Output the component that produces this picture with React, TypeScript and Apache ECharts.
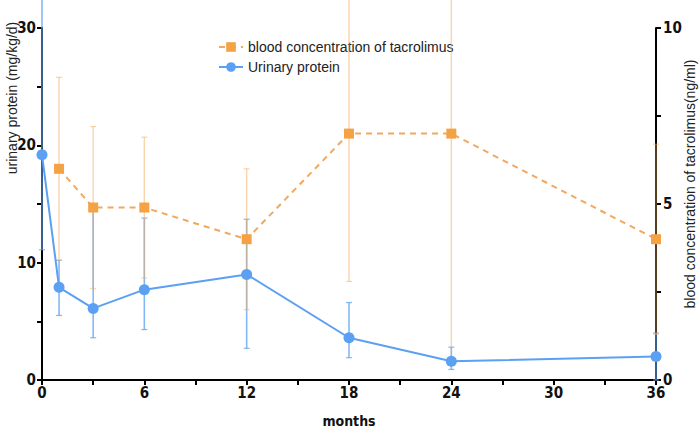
import React, { useEffect, useRef } from "react";
import * as echarts from "echarts";

const proteinMonths = [0, 1, 3, 6, 12, 18, 24, 36];
const urinaryProtein = [19.2, 7.9, 6.1, 7.7, 9.0, 3.6, 1.6, 2.0];
const urinaryLow = [11.1, 5.5, 3.6, 4.3, 2.7, 1.9, 0.9, 0.0];
const urinaryHigh = [33, 10.2, 14.6, 13.8, 13.7, 6.6, 2.8, 4.0];

const tacMonths = [1, 3, 6, 12, 18, 24, 36];
const tacrolimus = [6.0, 4.9, 4.9, 4.0, 7.0, 7.0, 4.0];
const tacLow = [3.4, 2.6, 2.9, 2.0, 2.8, 0.6, 1.3];
const tacHigh = [8.6, 7.2, 6.9, 6.0, 11.2, 13.4, 6.7];

const xTicks = [0, 6, 12, 18, 24, 30, 36];

const BLUE = "#5BA0F2";
const BLUE_ERR = "rgba(91,160,242,0.75)";
const ORANGE = "#F5A244";
const ORANGE_ERR = "rgba(245,170,90,0.5)";
const FONT = "'Liberation Sans', Arial, sans-serif";
const NARROW = "'Liberation Sans Narrow', 'Arial Narrow', 'DejaVu Sans Condensed', 'Liberation Sans', sans-serif";

function errRender(color: string, width: number) {
  return (params: any, api: any) => {
    const x = api.value(0);
    const lo = api.coord([x, api.value(1)]);
    const hi = api.coord([x, api.value(2)]);
    const w = 3;
    const style = { stroke: color, lineWidth: width };
    return {
      type: "group",
      children: [
        { type: "line", shape: { x1: lo[0], y1: lo[1], x2: hi[0], y2: hi[1] }, style },
        { type: "line", shape: { x1: lo[0] - w, y1: lo[1], x2: lo[0] + w, y2: lo[1] }, style: { stroke: color, lineWidth: 1.2 } },
        { type: "line", shape: { x1: hi[0] - w, y1: hi[1], x2: hi[0] + w, y2: hi[1] }, style: { stroke: color, lineWidth: 1.2 } },
      ],
    };
  };
}

export default function App() {
  const ref = useRef<HTMLDivElement>(null);
  useEffect(() => {
    if (!ref.current) return;
    const chart = echarts.init(ref.current, undefined, { renderer: "svg" });
    const axisLabel = { color: "#111", fontWeight: "bold", fontSize: 15, fontFamily: NARROW };
    chart.setOption({
      animation: false,
      grid: { left: 42, right: 44, top: 28, bottom: 49, containLabel: false, outerBoundsMode: "none" },
      legend: {
        orient: "vertical",
        left: 213,
        top: 35,
        itemWidth: 24,
        itemHeight: 12,
        itemGap: 6,
        textStyle: { fontSize: 14, color: "#222", fontFamily: FONT },
        data: ["blood concentration of tacrolimus", "Urinary protein"],
      },
      xAxis: {
        type: "value",
        min: 0,
        max: 36,
        interval: 6,
        name: "months",
        nameLocation: "middle",
        nameGap: 34,
        nameTextStyle: { color: "#111", fontWeight: "bold", fontSize: 14, fontFamily: NARROW },
        axisLine: { show: true, lineStyle: { color: "#000", width: 2 } },
        axisTick: { show: true, length: 5, lineStyle: { color: "#000", width: 2 } },
        minorTick: { show: true, splitNumber: 2, length: 5, lineStyle: { color: "#000", width: 2 } },
        splitLine: { show: false },
        axisLabel: { ...axisLabel, margin: 5, formatter: (v: number) => (xTicks.includes(v) ? String(v) : "") },
      },
      yAxis: [
        {
          type: "value",
          min: 0,
          max: 30,
          interval: 10,
          position: "left",
          axisLine: { show: true, lineStyle: { color: "#000", width: 2 } },
          axisTick: { show: true, length: 5, lineStyle: { color: "#000", width: 2 } },
          minorTick: { show: true, splitNumber: 2, length: 5, lineStyle: { color: "#000", width: 2 } },
          splitLine: { show: false },
          axisLabel: { ...axisLabel, margin: 6 },
        },
        {
          type: "value",
          min: 0,
          max: 10,
          interval: 5,
          position: "right",
          axisLine: { show: true, lineStyle: { color: "#000", width: 2 } },
          axisTick: { show: true, length: 5, lineStyle: { color: "#000", width: 2 } },
          minorTick: { show: true, splitNumber: 2, length: 5, lineStyle: { color: "#000", width: 2 } },
          splitLine: { show: false },
          axisLabel: { ...axisLabel, margin: 7 },
        },
      ],
      graphic: [
        {
          type: "text",
          x: 5,
          y: 98,
          rotation: Math.PI / 2,
          style: {
            text: "urinary protein (mg/kg/d)",
            fontSize: 14,
            fontFamily: FONT,
            fill: "#222",
            align: "center",
            verticalAlign: "top",
          },
        },
        {
          type: "text",
          x: 683,
          y: 184,
          rotation: Math.PI / 2,
          style: {
            text: "blood concentration of tacrolimus(ng/ml)",
            fontSize: 14,
            fontFamily: FONT,
            fill: "#222",
            align: "center",
            verticalAlign: "top",
          },
        },
      ],
      series: [
        {
          type: "custom",
          name: "protein-err",
          yAxisIndex: 0,
          clip: false,
          z: 5,
          renderItem: errRender(BLUE_ERR, 1.6),
          encode: { x: 0, y: [1, 2] },
          data: proteinMonths.map((m, i) => [m, urinaryLow[i], urinaryHigh[i]]),
          silent: true,
        },
        {
          type: "custom",
          name: "tac-err",
          yAxisIndex: 1,
          clip: false,
          z: 6,
          renderItem: errRender(ORANGE_ERR, 1.4),
          encode: { x: 0, y: [1, 2] },
          data: tacMonths.map((m, i) => [m, tacLow[i], tacHigh[i]]),
          silent: true,
        },
        {
          type: "line",
          name: "blood concentration of tacrolimus",
          yAxisIndex: 1,
          z: 8,
          data: tacMonths.map((m, i) => [m, tacrolimus[i]]),
          symbol: "rect",
          symbolSize: 10,
          itemStyle: { color: ORANGE },
          lineStyle: { color: "#F2A85E", width: 2, type: [6, 5] },
        },
        {
          type: "line",
          name: "Urinary protein",
          yAxisIndex: 0,
          z: 7,
          data: proteinMonths.map((m, i) => [m, urinaryProtein[i]]),
          symbol: "circle",
          symbolSize: 11,
          itemStyle: { color: BLUE },
          lineStyle: { color: BLUE, width: 2 },
        },
      ],
    });
    return () => chart.dispose();
  }, []);
  return <div ref={ref} style={{ width: 700, height: 429, position: "absolute", left: 0, top: 0, background: "#fff" }} />;
}
